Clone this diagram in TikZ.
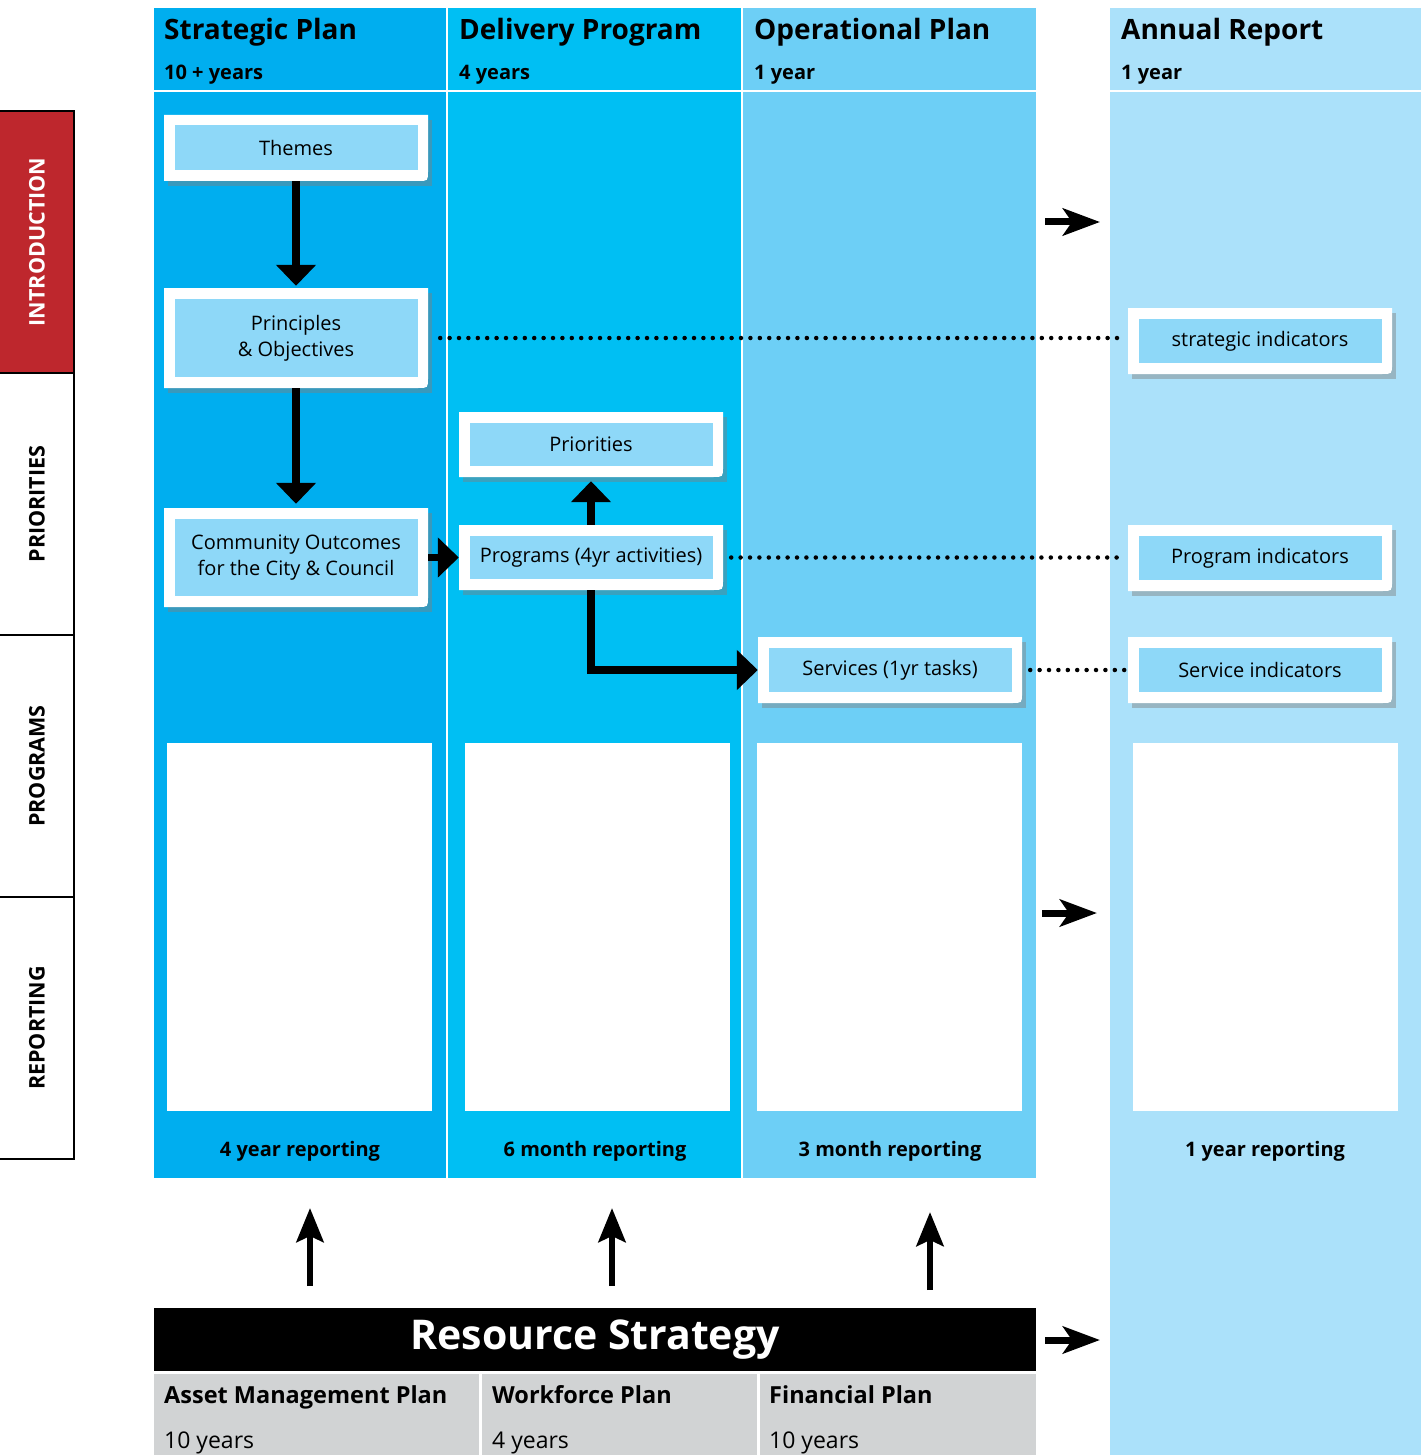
\documentclass[tikz,border=0pt]{standalone}
\usepackage{fontspec}
\setmainfont{Open Sans}
\usetikzlibrary{arrows.meta,shadows,positioning}

\definecolor{stratcol}{HTML}{00AEEF}
\definecolor{delivcol}{HTML}{00BFF3}
\definecolor{opercol}{HTML}{6DCFF6}
\definecolor{annualcol}{HTML}{ABE1FA}
\definecolor{boxblue}{HTML}{8ED8F8}
\definecolor{introred}{HTML}{BE272D}
\definecolor{plangray}{HTML}{D1D3D4}

\begin{document}
\begin{tikzpicture}[x=1pt, y=-1pt]
\tikzstyle{card} = [rectangle, minimum width=264pt, minimum height=66pt,
  inner sep=0pt, align=center, font=\fontsize{20}{26}\selectfont,
  drop shadow={shadow xshift=4pt, shadow yshift=-5pt, opacity=0.45},
  path picture={
    \fill[white] (path picture bounding box.north west)
      -- (path picture bounding box.north east)
      -- ([yshift=10pt]path picture bounding box.south east)
      .. controls (path picture bounding box.south east)
      .. ([xshift=-10pt]path picture bounding box.south east)
      -- (path picture bounding box.south west) -- cycle;
    \fill[boxblue] ([shift={(11pt,-10.5pt)}]path picture bounding box.north west)
      rectangle ([shift={(-10pt,11pt)}]path picture bounding box.south east);}]
\tikzstyle{coltitle} = [anchor=base west, inner sep=0pt,
  font=\fontsize{28}{30}\selectfont\bfseries]
\tikzstyle{colsub} = [anchor=base west, inner sep=0pt,
  font=\fontsize{20}{22}\selectfont\bfseries]
\tikzstyle{reporting} = [inner sep=0pt, font=\fontsize{20}{24}\selectfont\bfseries]
\tikzstyle{tablabel} = [rotate=90, inner sep=0pt,
  font=\fontsize{21.5}{24}\selectfont\bfseries]
\tikzstyle{bigarrow} = [line width=7.5pt, -{Triangle[width=39pt,length=21pt]}]
\tikzstyle{sidearrow} = [line width=7pt,
  -{Stealth[width=27pt,length=37pt,inset=9pt]}]
\tikzstyle{uparrow} = [line width=6.5pt,
  -{Stealth[width=27pt,length=34pt,inset=6pt]}]
\tikzstyle{dots} = [line width=4.5pt, line cap=round,
  dash pattern=on 0pt off 9.4pt]
\tikzstyle{planname} = [anchor=base west, inner sep=0pt,
  font=\fontsize{23.5}{26}\selectfont\bfseries]
\tikzstyle{planyears} = [anchor=base west, inner sep=0pt,
  font=\fontsize{23}{26}\selectfont]

\useasboundingbox (0,0) rectangle (1421,1455);

\fill[stratcol] (154,8) rectangle (446,1178);
\fill[delivcol] (448,8) rectangle (741,1178);
\fill[opercol] (743,8) rectangle (1036,1178);
\fill[annualcol] (1110,8) rectangle (1421,1455);
\draw[white, line width=2pt] (154,91) -- (1036,91);
\draw[white, line width=2pt] (1110,91) -- (1421,91);

\node[coltitle] at (164,40) {Strategic Plan};
\node[colsub] at (164,80) {10 + years};
\node[coltitle] at (459,40) {Delivery Program};
\node[colsub] at (459,80) {4 years};
\node[coltitle] at (754,40) {Operational Plan};
\node[colsub] at (754,80) {1 year};
\node[coltitle] at (1121,40) {Annual Report};
\node[colsub] at (1121,80) {1 year};

\fill[introred] (0,111) rectangle (74,373);
\draw[line width=2pt] (0,111) -- (74,111) -- (74,1159) -- (0,1159);
\foreach \y in {373,635,897}
  \draw[line width=2pt] (0,\y) -- (74,\y);
\node[tablabel, white] (intro) at (37,242) {INTRODUCTION};
\node[tablabel] (priorities) at (37,504) {PRIORITIES};
\node[tablabel] (programs) at (37,766) {PROGRAMS};
\node[tablabel] (reportingtab) at (37,1028) {REPORTING};

\node[card] (themes) at (296,148) {Themes};
\node[card, minimum height=100pt] (princ) at (296,338)
  {Principles\\ \& Objectives};
\node[card, minimum height=99pt] (commun) at (296,557.5)
  {Community Outcomes\\ for the City \& Council};
\node[card, minimum height=65pt] (prior) at (591,444.5) {Priorities};
\node[card, minimum height=65pt] (progs) at (591,557.5)
  {Programs (4yr activities)};
\node[card] (serv) at (890,670) {Services (1yr tasks)};
\node[card] (stratind) at (1260,341) {strategic indicators};
\node[card] (progind) at (1260,558) {Program indicators};
\node[card] (servind) at (1260,670) {Service indicators};

\draw[bigarrow, shorten >=2pt] (themes) -- (princ);
\draw[bigarrow, shorten >=4pt] (princ) -- (commun);
\draw[bigarrow] (commun) -- (progs);
\draw[bigarrow, shorten >=4pt] (progs) -- (prior);
\draw[bigarrow] (progs.south) |- (serv.west);

\draw[dots] ([xshift=12pt]princ.east) -- ([xshift=-2pt]princ.east -| stratind.west);
\draw[dots] ([xshift=8pt]progs.east) -- ([xshift=-2pt]progs.east -| progind.west);
\draw[dots] ([xshift=8pt]serv.east) -- ([xshift=-2pt]serv.east -| servind.west);

\foreach \x in {167,465,757,1133}
  \fill[white] (\x,743) rectangle ++(265,368);

\node[reporting] (rep4y) at (300,1151) {4 year reporting};
\node[reporting] (rep6m) at (595,1151) {6 month reporting};
\node[reporting] (rep3m) at (890,1151) {3 month reporting};
\node[reporting] (rep1y) at (1265,1151) {1 year reporting};

\coordinate (topfrom) at (1045,222);
\coordinate (topto) at (1100,222);
\coordinate (midfrom) at (1042,913);
\coordinate (midto) at (1097,913);
\coordinate (lowfrom) at (1045,1340);
\coordinate (lowto) at (1100,1340);
\draw[sidearrow] (topfrom) -- (topto);
\draw[sidearrow] (midfrom) -- (midto);
\draw[sidearrow] (lowfrom) -- (lowto);

\node[fill=black, text=white, minimum width=882pt, minimum height=63pt,
  inner sep=0pt, font=\fontsize{41}{44}\selectfont\bfseries] (resource)
  at (595,1339.5) {Resource Strategy};

\coordinate (assetup) at (310,1286);
\coordinate (strattip) at (310,1208);
\coordinate (workup) at (612,1286);
\coordinate (delivtip) at (612,1208);
\coordinate (finup) at (930,1290);
\coordinate (opertip) at (930,1212);
\draw[uparrow] (assetup) -- (strattip);
\draw[uparrow] (workup) -- (delivtip);
\draw[uparrow] (finup) -- (opertip);

\fill[plangray] (154,1374) rectangle (479,1455);
\fill[plangray] (482,1374) rectangle (757,1455);
\fill[plangray] (760,1374) rectangle (1036,1455);
\node[planname] (asset) at (164,1403) {Asset Management Plan};
\node[planyears] at (164,1448) {10 years};
\node[planname] (workforce) at (492,1403) {Workforce Plan};
\node[planyears] at (492,1448) {4 years};
\node[planname] (financial) at (769,1403) {Financial Plan};
\node[planyears] at (769,1448) {10 years};
\end{tikzpicture}
\end{document}
